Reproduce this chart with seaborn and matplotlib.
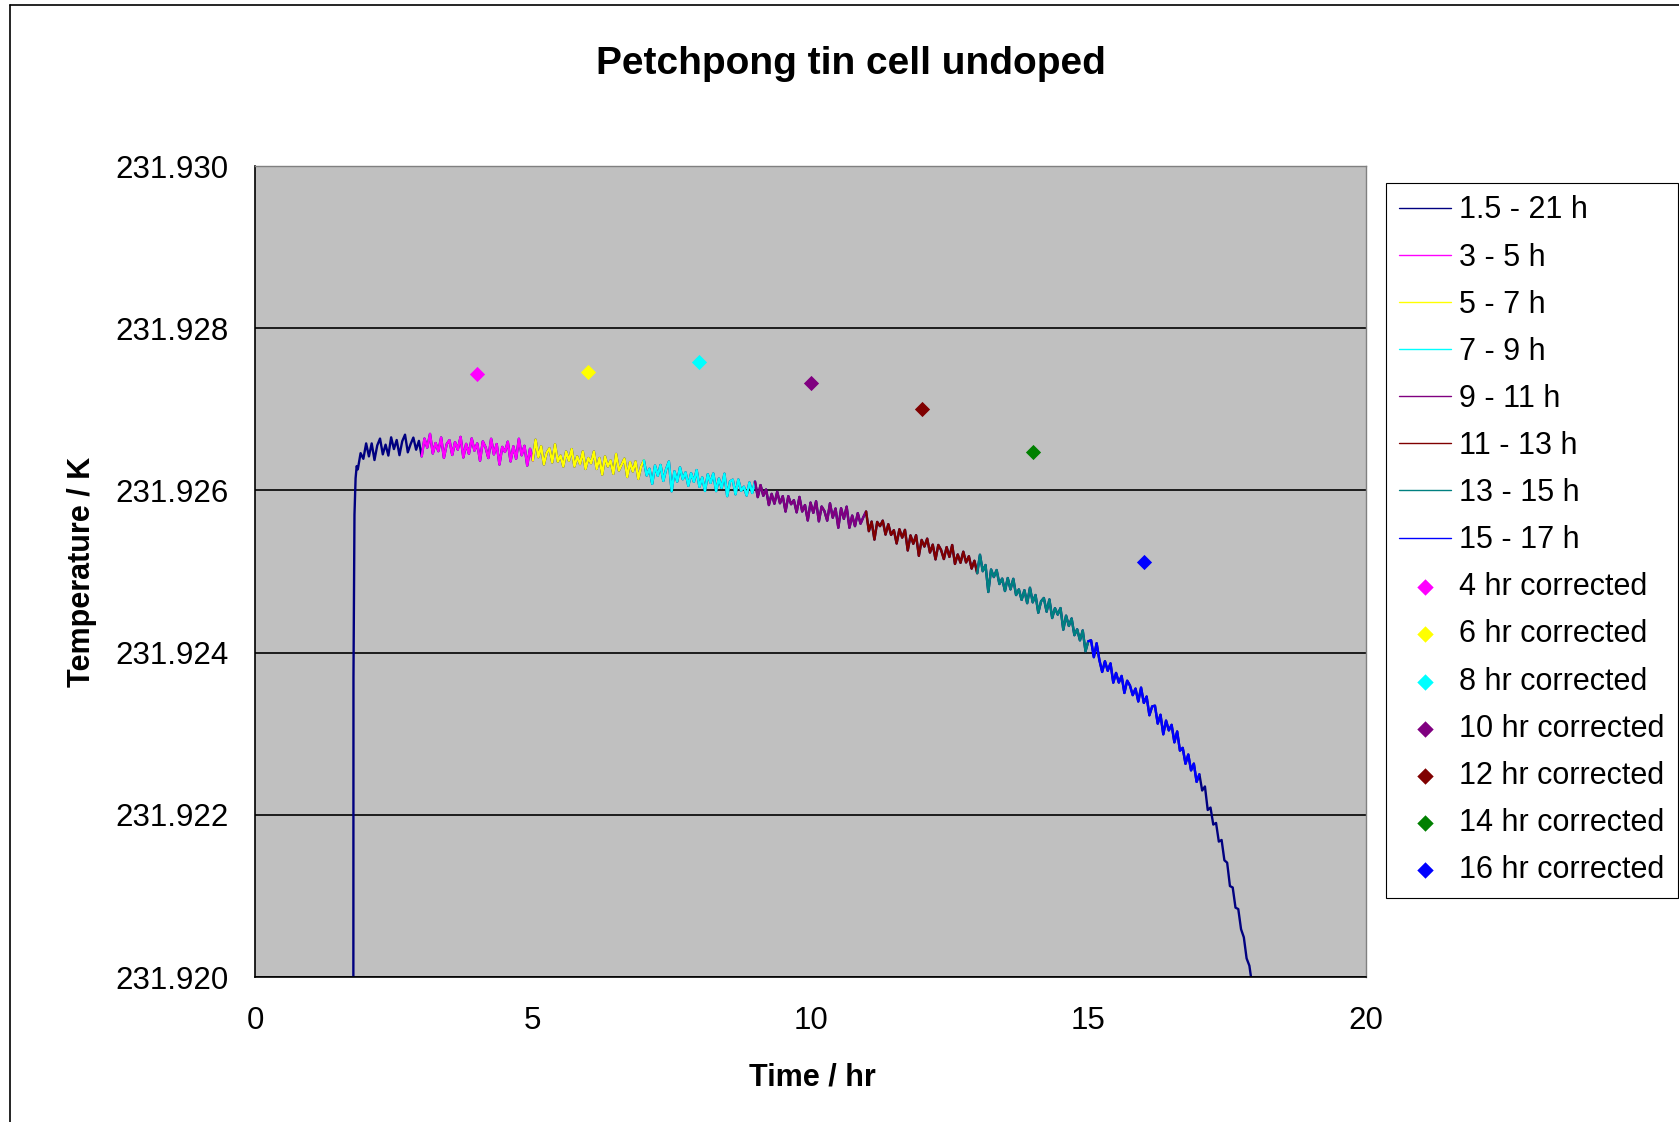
import numpy as np
import pandas as pd
import matplotlib
matplotlib.use('Agg')
import matplotlib.pyplot as plt
import seaborn as sns
from matplotlib.ticker import FormatStrFormatter, MultipleLocator
from matplotlib.collections import PathCollection

sns.set_style('white')
plt.rcParams['font.family'] = ['Liberation Sans', 'DejaVu Sans']
plt.rcParams['text.color'] = 'black'
plt.rcParams['axes.labelcolor'] = 'black'
plt.rcParams['xtick.color'] = 'black'
plt.rcParams['ytick.color'] = 'black'

# temperatures stored as micro-kelvin above this base
base_K = 231.92

# warm-up (fast rise when the plateau starts)
warmup_time = [1.77, 1.772, 1.79, 1.81, 1.83]
warmup_uK = [-300, 3700, 5700, 6150, 6300]

# logger readings, one every 0.05 hr from 1.85 hr
log_t0 = 1.85
log_step = 0.05
log_uK = [
    # 1.85 - 2.80
    6260, 6460, 6390, 6580, 6420, 6580, 6375, 6555, 6640, 6445, 6565, 6430, 6655, 6510, 6622, 6435, 6607, 6688, 6470, 6570,
    # 2.85 - 3.80
    6652, 6502, 6611, 6420, 6639, 6528, 6697, 6456, 6585, 6484, 6653, 6402, 6571, 6620, 6438, 6596, 6503, 6660, 6407, 6574,
    # 3.85 - 4.80
    6452, 6641, 6490, 6580, 6367, 6605, 6532, 6400, 6637, 6445, 6572, 6320, 6537, 6475, 6601, 6358, 6544, 6391, 6637, 6434,
    # 4.85 - 5.80
    6550, 6307, 6513, 6370, 6625, 6410, 6545, 6320, 6465, 6520, 6345, 6570, 6355, 6430, 6295, 6480, 6365, 6510, 6295, 6420,
    # 5.85 - 6.80
    6325, 6480, 6265, 6400, 6335, 6480, 6265, 6400, 6195, 6420, 6295, 6370, 6205, 6450, 6244, 6318, 6392, 6166, 6350, 6234,
    # 6.85 - 7.80
    6358, 6142, 6296, 6370, 6184, 6268, 6082, 6306, 6180, 6314, 6118, 6262, 6356, 5990, 6235, 6109, 6284, 6138, 6223, 6057,
    # 7.85 - 8.80
    6212, 6106, 6251, 6045, 6160, 5994, 6199, 6093, 6208, 5992, 6147, 6031, 6206, 5930, 6111, 6132, 5953, 6134, 5995, 6046,
    # 8.85 - 9.80
    5937, 6098, 5969, 6110, 5918, 6066, 5934, 6012, 5820, 5958, 5836, 5984, 5842, 5930, 5740, 5930, 5830, 5880, 5730, 5920,
    # 9.85 - 10.80
    5740, 5820, 5630, 5850, 5723, 5866, 5619, 5802, 5745, 5628, 5841, 5664, 5777, 5540, 5780, 5650, 5800, 5540, 5690, 5560,
    # 10.85 - 11.80
    5720, 5590, 5670, 5740, 5498, 5616, 5394, 5612, 5560, 5628, 5456, 5584, 5452, 5510, 5346, 5522, 5418, 5514, 5260, 5446,
    # 11.85 - 12.80
    5342, 5448, 5194, 5390, 5308, 5406, 5234, 5332, 5150, 5328, 5266, 5154, 5302, 5180, 5327, 5094, 5211, 5108, 5245, 5112,
    # 12.85 - 13.80
    5189, 5036, 5133, 4980, 5207, 5004, 5081, 4748, 5025, 4932, 5019, 4846, 4913, 4760, 4920, 4780, 4910, 4710, 4780, 4650,
    # 13.85 - 14.80
    4770, 4610, 4800, 4620, 4711, 4492, 4633, 4674, 4505, 4656, 4427, 4548, 4469, 4550, 4283, 4456, 4329, 4422, 4215, 4288,
    # 14.85 - 15.80
    4151, 4274, 4017, 4140, 4152, 3944, 4116, 3908, 3762, 3894, 3776, 3868, 3630, 3750, 3631, 3713, 3503, 3654, 3595, 3476,
    # 15.85 - 16.80
    3557, 3398, 3569, 3380, 3459, 3228, 3337, 3346, 3125, 3234, 2993, 3162, 3041, 3110, 2894, 3028, 2792, 2826, 2630, 2744,
    # 16.85 - 17.95
    2548, 2632, 2406, 2500, 2300, 2350, 2060, 2090, 1880, 1900, 1670, 1690, 1440, 1410, 1122, 1104, 856, 838, 590, 490, 230, 140, -100,
]

# line series (time windows)
seg_labels = ['1.5 - 21 h', '3 - 5 h', '5 - 7 h', '7 - 9 h', '9 - 11 h', '11 - 13 h', '13 - 15 h', '15 - 17 h']
seg_start = [0, 3, 5, 7, 9, 11, 13, 15]
seg_end = [25, 5, 7, 9, 11, 13, 15, 17]
seg_colors = ['#000080', '#FF00FF', '#FFFF00', '#00FFFF', '#800080', '#800000', '#008080', '#0000FF']

# corrected points
corr_labels = ['4 hr corrected', '6 hr corrected', '8 hr corrected', '10 hr corrected',
               '12 hr corrected', '14 hr corrected', '16 hr corrected']
corr_time = [4, 6, 8, 10, 12, 14, 16]
corr_temp = [231.92743, 231.92746, 231.92758, 231.92732, 231.92700, 231.92647, 231.92512]
corr_colors = ['#FF00FF', '#FFFF00', '#00FFFF', '#800080', '#800000', '#008000', '#0000FF']

# build the table
log_time = np.round(log_t0 + log_step * np.arange(len(log_uK)), 2)
df = pd.DataFrame({
    'time': np.concatenate([warmup_time, log_time]),
    'temp': base_K + np.array(warmup_uK + log_uK) * 1e-6,
})

fig = plt.figure(figsize=(16.79, 11.22), dpi=100)
ax = fig.add_axes([0.1519, 0.1292, 0.6617, 0.7228])
ax.set_facecolor('#C0C0C0')

for lab, a, b, c in zip(seg_labels, seg_start, seg_end, seg_colors):
    part = df[(df['time'] >= a) & (df['time'] <= b)]
    sns.lineplot(data=part, x='time', y='temp', color=c, lw=1.7, sort=False,
                 estimator=None, label=lab, ax=ax)

for lab, t, y, c in zip(corr_labels, corr_time, corr_temp, corr_colors):
    sns.scatterplot(x=[t], y=[y], marker='D', s=60, color=c, edgecolor=c,
                    linewidth=0, label=lab, ax=ax, zorder=5)

ax.set_xlim(0, 20)
ax.set_ylim(231.920, 231.930)
ax.xaxis.set_major_locator(MultipleLocator(5))
ax.yaxis.set_major_locator(MultipleLocator(0.002))
ax.yaxis.set_major_formatter(FormatStrFormatter('%.3f'))
ax.yaxis.grid(True, color='black', lw=1.2)
ax.xaxis.grid(False)
ax.set_axisbelow(True)

for s in ['left', 'bottom']:
    ax.spines[s].set_color('black')
    ax.spines[s].set_linewidth(1.2)
for s in ['top', 'right']:
    ax.spines[s].set_color('#808080')
    ax.spines[s].set_linewidth(1.0)

ax.tick_params(axis='both', direction='in', length=7, width=1, labelsize=22.5, colors='black')
ax.tick_params(axis='x', pad=21)
ax.tick_params(axis='y', pad=19)

ax.set_xlabel('Time / hr', fontsize=22, fontweight='bold')
ax.set_ylabel('Temperature / K', fontsize=22, fontweight='bold')
ax.xaxis.set_label_coords(0.5014, -0.1235)
ax.xaxis.label.set_va('center')
ax.yaxis.set_label_coords(-0.1557, 0.499)
ax.yaxis.label.set_va('center')

ax.set_title('Petchpong tin cell undoped', fontsize=28, fontweight='bold',
             x=0.5365, y=1.126, va='center', pad=0)

leg = ax.legend(loc='upper left', bbox_to_anchor=(0.8255, 0.8372), bbox_transform=fig.transFigure,
                fontsize=22, frameon=True, fancybox=False, edgecolor='black', framealpha=1,
                handlelength=1.7, handletextpad=0.28, labelspacing=0.56, borderpad=0.42,
                borderaxespad=0, scatterpoints=1)
leg.get_frame().set_linewidth(0.8)
for h in leg.legend_handles:
    if isinstance(h, PathCollection):
        h.set_sizes([70])
    else:
        h.set_linewidth(1.0)

# chart border (Excel chart area)
fig.add_artist(plt.Line2D([10 / 1679, 10 / 1679], [0, 1 - 4.5 / 1122], transform=fig.transFigure, color='black', lw=1.2))
fig.add_artist(plt.Line2D([10 / 1679, 1], [1 - 4.5 / 1122, 1 - 4.5 / 1122], transform=fig.transFigure, color='black', lw=1.2))

fig.savefig('out.png', dpi=100)
